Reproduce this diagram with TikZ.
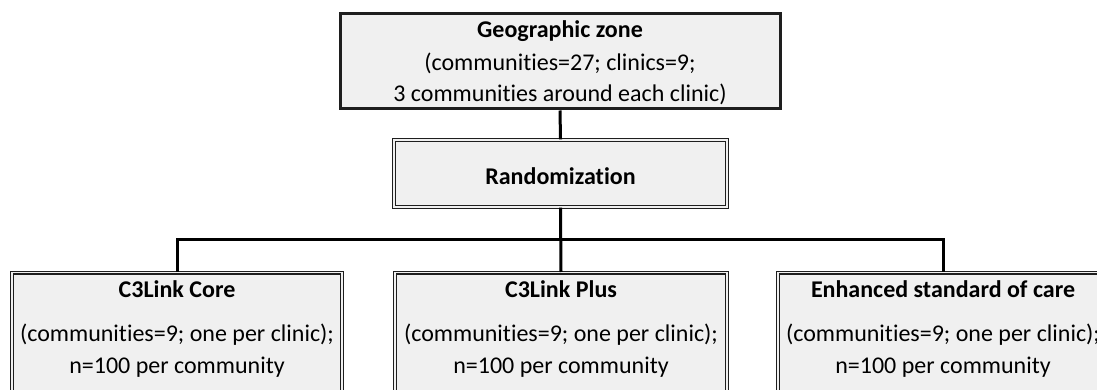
\documentclass[tikz,border=0pt]{standalone}
\usepackage{fontspec}
\setmainfont{Carlito}[Ligatures={NoCommon}]
\definecolor{boxfill}{HTML}{F0F0F0}
\definecolor{edge}{HTML}{1E1E1E}
\tikzset{
  thickbox/.style={draw=edge, line width=3pt, fill=boxfill},
  dblbox/.style={draw=edge, line width=1.3pt, double=boxfill, double distance=1.6pt, fill=boxfill},
  conn/.style={draw=black, line width=3pt},
  txt/.style={font=\fontsize{24}{31}\selectfont, align=center, inner sep=0pt},
  btxt/.style={txt, font=\fontsize{24}{31}\selectfont\bfseries}
}
\begin{document}
\begin{tikzpicture}[x=1pt,y=-1pt]
\useasboundingbox (0,0) rectangle (1097,390);
\clip (0,0) rectangle (1097,390);
% boxes
\node[thickbox, minimum width=440pt, minimum height=95pt] (geo) at (560,61.5) {};
\node[dblbox, minimum width=333pt, minimum height=67pt] (rand) at (560.5,173.5) {};
\node[dblbox, anchor=north, minimum width=330pt, minimum height=150pt] (core) at (177,272) {};
\node[dblbox, anchor=north, minimum width=332pt, minimum height=150pt] (plus) at (561,272) {};
\node[dblbox, anchor=north, minimum width=330pt, minimum height=150pt] (esc) at (943,272) {};
% connectors
\coordinate (bus) at (560,239);
\draw[conn] (geo.south) -- (rand.north);
\draw[conn] (rand.south) -- (plus.north);
\draw[conn] (core.north) |- (bus) -| (esc.north);
% texts
\node[btxt] (geot) at (560,31) {Geographic zone};
\node[txt] (geo2) at (560,63) {(communities=27; clinics=9;};
\node[txt] (geo3) at (560,94) {3 communities around each clinic)};
\node[btxt] (randt) at (560.5,176) {Randomization};
\node[btxt] (coret) at (177,289) {C3Link Core};
\node[txt] (core2) at (177,335) {(communities=9; one per clinic);};
\node[txt] (core3) at (177,367) {n=100 per community};
\node[btxt] (plust) at (561,289) {C3Link Plus};
\node[txt] (plus2) at (561,335) {(communities=9; one per clinic);};
\node[txt] (plus3) at (561,367) {n=100 per community};
\node[btxt] (esct) at (943,289) {Enhanced standard of care};
\node[txt] (esc2) at (943,335) {(communities=9; one per clinic);};
\node[txt] (esc3) at (943,367) {n=100 per community};
\end{tikzpicture}
\end{document}
